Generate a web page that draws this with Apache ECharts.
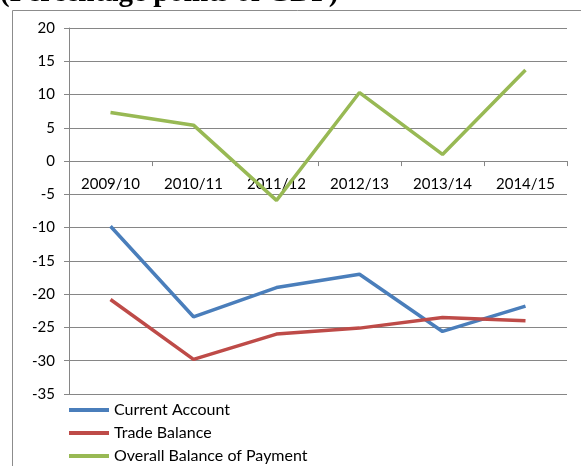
<!DOCTYPE html>
<html>
<head>
<meta charset="utf-8">
<script src="https://cdn.jsdelivr.net/npm/echarts@6/dist/echarts.min.js"></script>
<style>
  html, body { margin: 0; padding: 0; background: #fff; }
  #main { width: 581px; height: 466px; }
</style>
</head>
<body>
<div id="main"></div>
<script>
// data
var years = ['2009/10', '2010/11', '2011/12', '2012/13', '2013/14', '2014/15'];
var currentAccount = [-9.8, -23.4, -19.0, -17.0, -25.6, -21.8];
var tradeBalance = [-20.8, -29.8, -26.0, -25.1, -23.5, -24.0];
var overallBop = [7.3, 5.4, -5.9, 10.3, 1.0, 13.7];
var seriesNames = ['Current Account', 'Trade Balance', 'Overall Balance of Payment'];
var colors = ['#4a7ebb', '#be4b48', '#98b954'];

var yMin = -35, yMax = 20;
var gridTop = 28, gridBottom = 72;

var myChart = echarts.init(document.getElementById('main'));

function lineSeries(name, data, color) {
    return {
        name: name,
        type: 'line',
        data: data,
        symbol: 'none',
        lineStyle: { color: color, width: 3.5 },
        itemStyle: { color: color }
    };
}

// category axis sits on the zero line, like the original
var plotH = 466 - gridTop - gridBottom;
var zeroOffset = -plotH * (0 - yMin) / (yMax - yMin);

myChart.setOption({
    animation: false,
    textStyle: { fontFamily: 'Lato' },
    graphic: [
        {
            type: 'rect',
            shape: { x: 12.5, y: 10.5, width: 600, height: 500 },
            style: { fill: 'none', stroke: '#8c8c8c', lineWidth: 1 }
        },
        {
            type: 'text',
            left: 0,
            top: -21,
            style: {
                text: '(Percentage points of GDP)',
                font: 'bold 29px "Liberation Serif"',
                fill: '#000'
            }
        }
    ],
    grid: { left: 69, right: 14, top: gridTop, bottom: gridBottom, containLabel: false },
    legend: {
        orient: 'vertical',
        left: 69,
        top: 402,
        padding: 0,
        height: 70,
        icon: 'rect',
        itemWidth: 40,
        itemHeight: 4,
        itemGap: 7,
        textStyle: { fontSize: 16, color: '#000', fontFamily: 'Lato', lineHeight: 16 },
        data: seriesNames
    },
    xAxis: {
        type: 'category',
        data: years,
        offset: zeroOffset,
        axisLine: { onZero: false, lineStyle: { color: '#868686', width: 1 } },
        axisTick: { show: true, length: 5, lineStyle: { color: '#868686' } },
        axisLabel: { color: '#000', fontSize: 15, margin: 16 },
        splitLine: { show: false }
    },
    yAxis: {
        type: 'value',
        min: yMin,
        max: yMax,
        interval: 5,
        axisLine: { show: true, lineStyle: { color: '#868686', width: 1 } },
        axisTick: { show: true, length: 5, lineStyle: { color: '#868686' } },
        axisLabel: { color: '#000', fontSize: 15, margin: 14 },
        splitLine: { show: true, lineStyle: { color: '#868686', width: 1 } }
    },
    series: [
        lineSeries(seriesNames[0], currentAccount, colors[0]),
        lineSeries(seriesNames[1], tradeBalance, colors[1]),
        lineSeries(seriesNames[2], overallBop, colors[2])
    ]
});
</script>
</body>
</html>
